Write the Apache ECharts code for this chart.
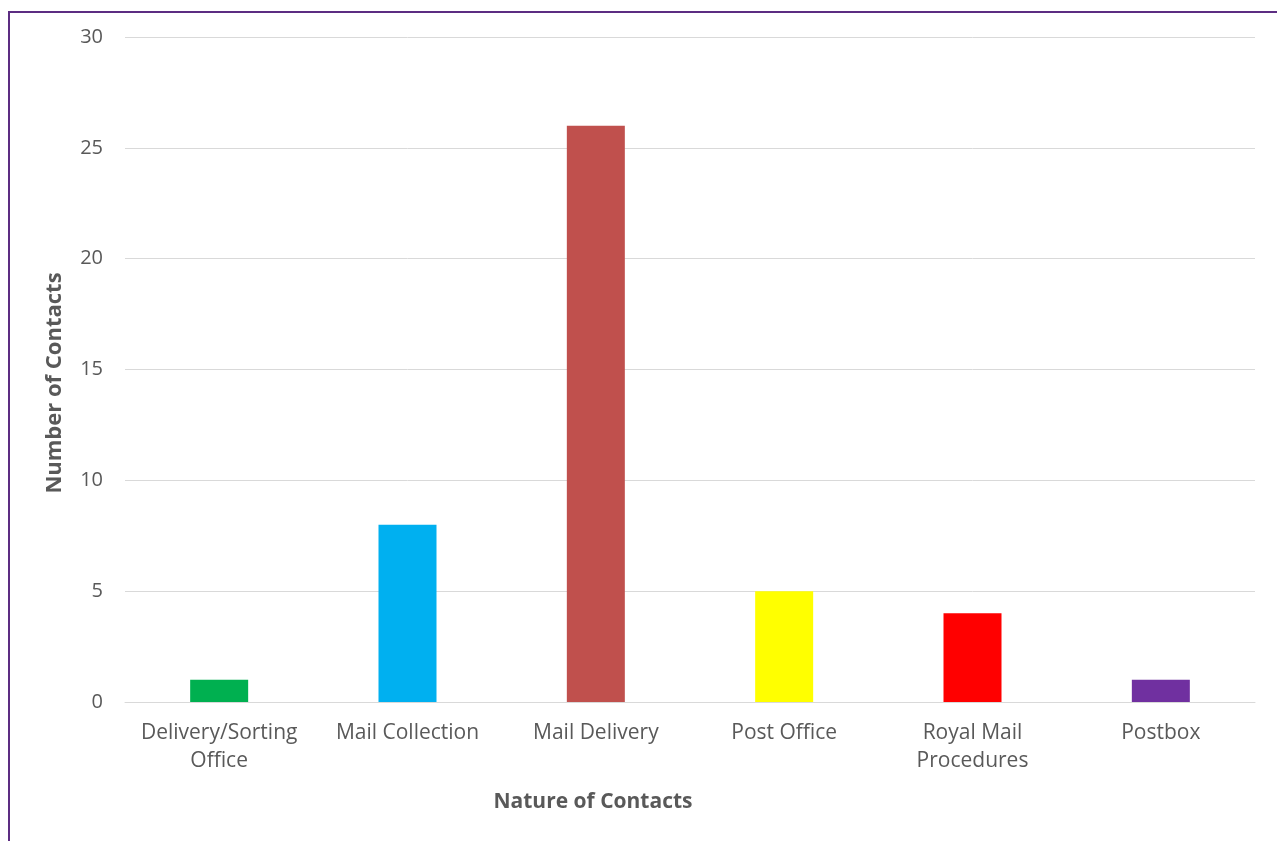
<!DOCTYPE html>
<html><head><meta charset="utf-8">
<script src="https://cdn.jsdelivr.net/npm/echarts@6/dist/echarts.min.js"></script>
<style>
html,body{margin:0;padding:0;background:#fff;width:1277px;height:841px;overflow:hidden;}
#frame{position:absolute;left:8px;top:11px;width:1300px;height:900px;border-left:2px solid #5c2d82;border-top:2px solid #5c2d82;}
#c{position:absolute;left:0;top:0;width:1277px;height:841px;}
</style></head>
<body>
<div id="frame"></div>
<div id="c"></div>
<script>
const categories = ['Delivery/Sorting\nOffice','Mail Collection','Mail Delivery','Post Office','Royal Mail\nProcedures','Postbox'];
const values = [1, 8, 26, 5, 4, 1];
const colors = ['#00b050','#00b0f0','#c0504d','#ffff00','#ff0000','#7030a0'];
const yTicks = {min:0, max:30, interval:5};
const xTitle = 'Nature of Contacts';
const yTitle = 'Number of Contacts';

const FONT = '"Open Sans", Lato, sans-serif';
const chart = echarts.init(document.getElementById('c'), null, {renderer:'canvas'});
chart.setOption({
  animation:false,
  grid:{left:125, right:22, top:37, bottom:139, containLabel:false},
  xAxis:{
    type:'category', data:categories,
    axisLine:{lineStyle:{color:'#d9d9d9', width:1}},
    axisTick:{show:false},
    axisLabel:{color:'#595959', fontFamily:FONT, fontSize:21, lineHeight:28, margin:17, interval:0}
  },
  yAxis:{
    type:'value', min:yTicks.min, max:yTicks.max, interval:yTicks.interval,
    axisLine:{show:false}, axisTick:{show:false},
    splitLine:{lineStyle:{color:'#d9d9d9', width:1}},
    axisLabel:{color:'#595959', fontFamily:FONT, fontSize:20, margin:22}
  },
  series:[{
    type:'bar', barWidth:58,
    data:values.map((v,i)=>({value:v, itemStyle:{color:colors[i]}}))
  }],
  graphic:[
    {type:'text', x:593, y:802, style:{text:xTitle, fill:'#595959', font:'bold 21px '+FONT, textAlign:'center', textVerticalAlign:'middle'}},
    {type:'text', x:55, y:383, rotation:Math.PI/2, style:{text:yTitle, fill:'#595959', font:'bold 22px '+FONT, textAlign:'center', textVerticalAlign:'middle'}}
  ]
});
</script>
</body></html>
